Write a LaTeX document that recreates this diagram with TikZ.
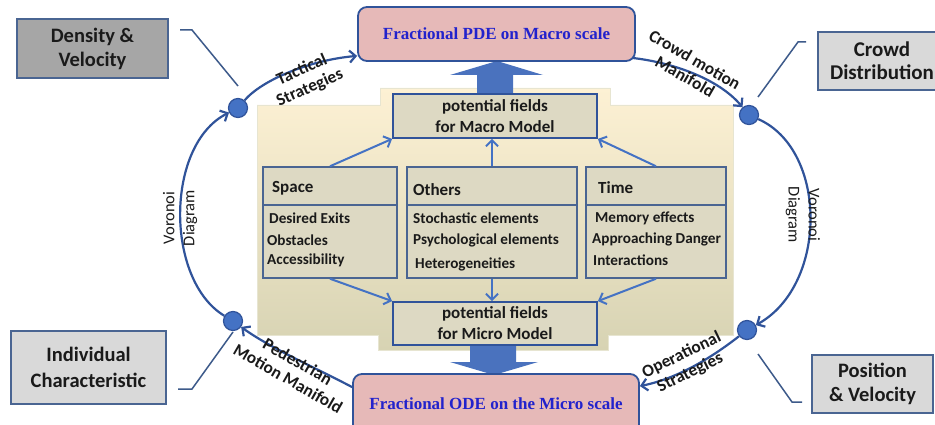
\documentclass[tikz,border=0pt]{standalone}
\usepackage{fontspec}
\setmainfont{Carlito}
\newfontfamily\titlefont{Liberation Serif}
\usetikzlibrary{arrows.meta}
\definecolor{lineblue}{HTML}{30539A}
\definecolor{arrowblue}{HTML}{4472C4}
\definecolor{boxedge}{HTML}{4A6592}
\definecolor{darkgrayfill}{HTML}{A6A6A6}
\definecolor{lightgrayfill}{HTML}{D9D9D9}
\definecolor{pinkfill}{HTML}{E6B9B8}
\definecolor{tanfill}{HTML}{DDD9C3}
\definecolor{titleblue}{HTML}{2222CC}
\definecolor{paneltop}{HTML}{FDF1D4}
\definecolor{panelbot}{HTML}{D7D3B3}
\definecolor{fatblue}{HTML}{4A72BE}
\definecolor{leadercol}{HTML}{3D5A8A}
\definecolor{textcol}{HTML}{1A1A1A}
\begin{document}
\begin{tikzpicture}[x=1pt,y=-1pt,
  graybox/.style={draw=boxedge, line width=1.5pt, align=center, inner sep=0pt, text=textcol,
    font=\bfseries\fontsize{20.5}{24}\selectfont},
  pinkbox/.style={draw=lineblue, line width=1.8pt, fill=pinkfill, rounded corners=9pt,
    inner sep=0pt, text=titleblue, font=\titlefont\bfseries\fontsize{17}{20}\selectfont},
  pfbox/.style={draw=lineblue, line width=1.8pt, fill=tanfill, align=center, inner sep=0pt,
    text=textcol, font=\bfseries\fontsize{17}{21}\selectfont},
  catbox/.style={draw=boxedge, line width=1.5pt, fill=tanfill, inner sep=0pt},
  cathead/.style={anchor=west, inner sep=0pt, text=textcol, font=\bfseries\fontsize{17}{20}\selectfont},
  catitem/.style={anchor=west, inner sep=0pt, text=textcol, font=\bfseries\fontsize{15.2}{18}\selectfont},
  flowline/.style={draw=lineblue, line width=2.2pt, -{Straight Barb[length=6pt,width=12pt]}},
  inarrow/.style={draw=arrowblue, line width=2pt, -{Straight Barb[length=6pt,width=12pt]}},
  leaderline/.style={draw=leadercol, line width=1.5pt},
  dotnode/.style={circle, minimum size=19pt, inner sep=0pt, fill=arrowblue, draw=lineblue, line width=1.2pt},
  curvelabel/.style={align=center, inner sep=0pt, text=textcol, font=\bfseries\fontsize{17.3}{19.5}\selectfont},
  vorlabel/.style={align=center, inner sep=0pt, text=textcol, font=\fontsize{16.5}{20}\selectfont}
]
\useasboundingbox (0,0) rectangle (935,425);
\fill[white] (0,0) rectangle (935,425);

% background panel
\shade[top color=paneltop, bottom color=panelbot, draw=panelbot!60!white, line width=0.6pt]
  (257,105) -- (380,105) -- (380,88) -- (610,88) -- (610,105) -- (733,105) -- (733,335)
  -- (608,335) -- (608,350) -- (378,350) -- (378,335) -- (257,335) -- cycle;

% fat arrows
\fill[fatblue] (477,94) -- (477,75) -- (450,75) -- (497,61) -- (543,75) -- (513,75) -- (513,94) -- cycle;
\fill[fatblue] (470,344) -- (470,362) -- (450,362) -- (494,375) -- (538,362) -- (516,362) -- (516,344) -- cycle;

% main boxes
\node[pinkbox, minimum width=277pt, minimum height=54pt] (pde) at (496.5,34) {Fractional PDE on Macro scale};
\node[pinkbox, minimum width=286pt, minimum height=60pt] (ode) at (496,404) {Fractional ODE on the Micro scale};

\node[pfbox, minimum width=204pt, minimum height=44pt] (pfmacro) at (495,116) {potential fields\\for Macro Model};
\node[pfbox, minimum width=204pt, minimum height=43pt] (pfmicro) at (495,323.5) {potential fields\\for Micro Model};

% category boxes
\node[catbox, minimum width=134pt, minimum height=111pt] (space) at (330,222.5) {};
\node[catbox, minimum width=170pt, minimum height=111pt] (others) at (492,222.5) {};
\node[catbox, minimum width=140pt, minimum height=111pt] (time) at (656,222.5) {};
\draw[draw=boxedge, line width=1.2pt] (space.west |- 0,205) -- (space.east |- 0,205);
\draw[draw=boxedge, line width=1.2pt] (others.west |- 0,205) -- (others.east |- 0,205);
\draw[draw=boxedge, line width=1.2pt] (time.west |- 0,205) -- (time.east |- 0,205);

\node[cathead] (spaceh) at (272,188) {Space};
\node[catitem] (sp1) at (269,218) {Desired Exits};
\node[catitem] (sp2) at (267,240) {Obstacles};
\node[catitem] (sp3) at (267,260) {Accessibility};

\node[cathead] (othersh) at (413,190) {Others};
\node[catitem] (ot1) at (413,218) {Stochastic elements};
\node[catitem] (ot2) at (413,240) {Psychological elements};
\node[catitem] (ot3) at (415,264) {Heterogeneities};

\node[cathead] (timeh) at (598,188) {Time};
\node[catitem] (ti1) at (595,218) {Memory effects};
\node[catitem] (ti2) at (592,239) {Approaching Danger};
\node[catitem] (ti3) at (593,260) {Interactions};

% inner arrows
\draw[inarrow] (space.north) -- (pfmacro.south west);
\draw[inarrow] (others.north) -- (others.north |- pfmacro.south);
\draw[inarrow] (time.north) -- (pfmacro.south east);
\draw[inarrow] (space.south) -- (pfmicro.north west);
\draw[inarrow] (others.south) -- (others.south |- pfmicro.north);
\draw[inarrow] (time.south) -- (pfmicro.north east);

% side boxes
\node[graybox, fill=darkgrayfill, minimum width=151pt, minimum height=59pt] (dv) at (92.5,48.5) {Density \&\\Velocity};
\node[graybox, fill=lightgrayfill, minimum width=128pt, minimum height=58pt, font=\bfseries\fontsize{21}{23}\selectfont] (cd) at (882,61) {Crowd\\Distribution};
\node[graybox, fill=lightgrayfill, minimum width=155pt, minimum height=73pt, font=\bfseries\fontsize{20.5}{26}\selectfont] (ic) at (88.5,367.5) {Individual\\Characteristic};
\node[graybox, fill=lightgrayfill, minimum width=121pt, minimum height=58pt] (pv) at (872.5,384) {Position\\\& Velocity};

% dots
\node[dotnode] (tl) at (238,108) {};
\node[dotnode] (tr) at (749,115) {};
\node[dotnode] (bl) at (233,321) {};
\node[dotnode] (br) at (747,330) {};

% leader lines
\coordinate (dvA) at (180,30); \coordinate (dvB) at (192,30); \coordinate (dvC) at (238,86);
\coordinate (cdA) at (806,42); \coordinate (cdB) at (798,42); \coordinate (cdC) at (758,97);
\coordinate (icA) at (178,389); \coordinate (icB) at (192,389); \coordinate (icC) at (233,332);
\coordinate (pvA) at (802,402); \coordinate (pvB) at (792,402); \coordinate (pvC) at (758,354);
\draw[leaderline] (dvA) -- (dvB) -- (dvC);
\draw[leaderline] (cdA) -- (cdB) -- (cdC);
\draw[leaderline] (icA) -- (icB) -- (icC);
\draw[leaderline] (pvA) -- (pvB) -- (pvC);

% outer cycle
\draw[flowline] (tl) .. controls (262,80) and (310,60) .. ([yshift=6pt]pde.south west);
\draw[flowline] ([xshift=-4pt,yshift=4pt]pde.south east) .. controls (670,62) and (718,78) .. (tr);
\draw[flowline] (tr) .. controls (828,150) and (828,285) .. (br);
\draw[flowline] (br) .. controls (715,355) and (680,378) .. ([yshift=-13pt]ode.north east);
\draw[flowline] ([yshift=-14pt]ode.north west) .. controls (320,370) and (270,348) .. (bl);
\draw[flowline] (bl) .. controls (165,280) and (165,145) .. (tl);

% curve labels
\node[curvelabel, rotate=24] (lab1) at (306,79) {Tactical\\Strategies};
\node[curvelabel, rotate=-30] (lab2) at (690,68) {Crowd motion\\Manifold};
\node[vorlabel, rotate=-90] (lab3) at (803,215) {Voronoi\\Diagram};
\node[curvelabel, rotate=26] (lab4) at (686,364) {Operational\\Strategies};
\node[curvelabel, rotate=-30] (lab5) at (293,370) {Pedestrian\\Motion Manifold};
\node[vorlabel, rotate=90] (lab6) at (180,218) {Voronoi\\Diagram};
\end{tikzpicture}
\end{document}
